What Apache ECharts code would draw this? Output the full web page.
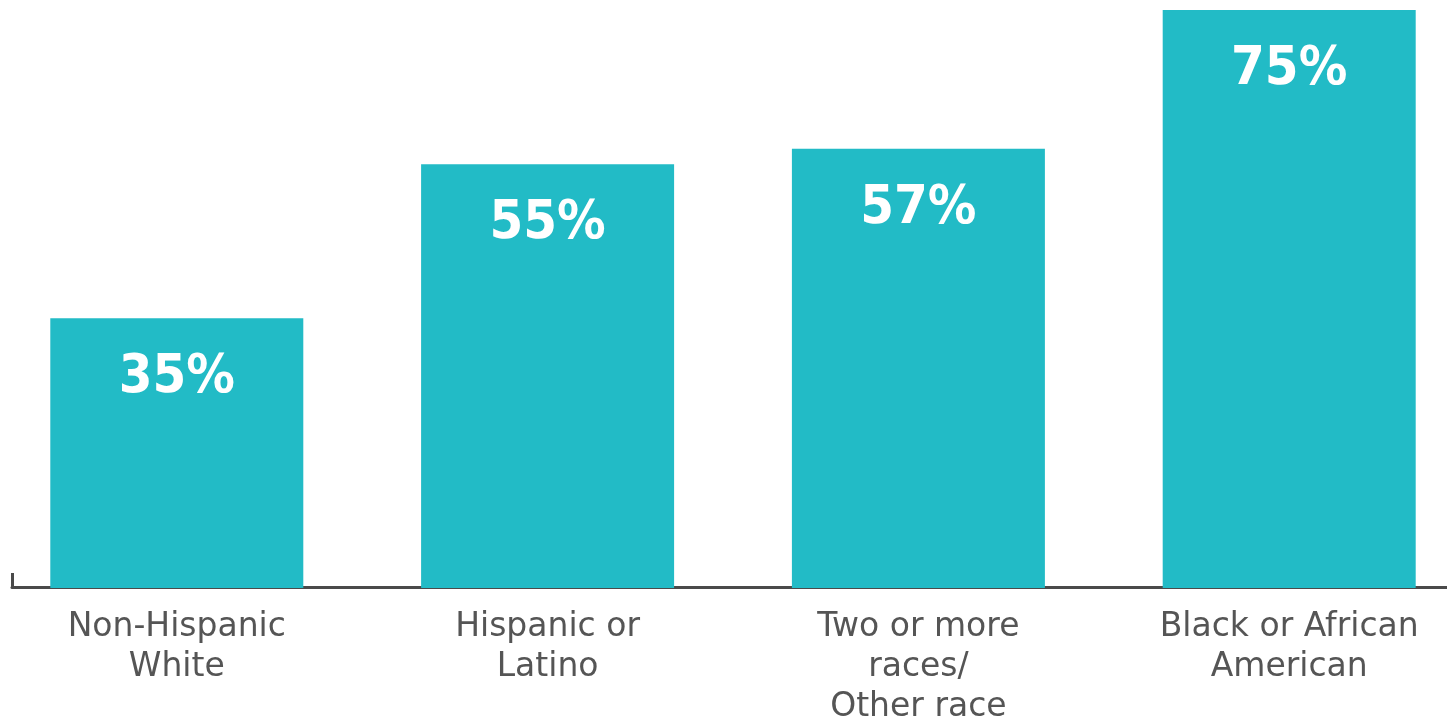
<!DOCTYPE html>
<html>
<head>
<meta charset="utf-8">
<script src="https://cdn.jsdelivr.net/npm/echarts@6/dist/echarts.min.js"></script>
<style>
html,body{margin:0;padding:0;background:#fff;}
#chart{width:1447px;height:726px;}
</style>
</head>
<body>
<div id="chart"></div>
<script>
const categories = ['Non-Hispanic\nWhite', 'Hispanic or\nLatino', 'Two or more\nraces/\nOther race', 'Black or African\nAmerican'];
const values = [35, 55, 57, 75];

const chart = echarts.init(document.getElementById('chart'));
chart.setOption({
  animation: false,
  backgroundColor: '#ffffff',
  grid: [
    { left: -8.6, right: -27.6, top: 10, bottom: 138, containLabel: false, outerBoundsMode: 'none' },
    { left: 12, right: -4, top: 10, bottom: 139, containLabel: false, outerBoundsMode: 'none' }
  ],
  xAxis: [
    {
      type: 'category', gridIndex: 0, data: categories,
      axisLine: { show: false }, axisTick: { show: false },
      axisLabel: {
        interval: 0, margin: 19,
        fontFamily: 'DejaVu Sans', fontSize: 33, lineHeight: 40,
        color: '#555555'
      }
    },
    {
      type: 'value', gridIndex: 1, min: 0, max: 1, interval: 1,
      axisLine: { show: true, lineStyle: { color: '#4a4a4a', width: 3 } },
      axisTick: { show: true, inside: true, length: 14, lineStyle: { color: '#4a4a4a', width: 3 } },
      axisLabel: { show: false }, splitLine: { show: false }
    }
  ],
  yAxis: [
    { type: 'value', gridIndex: 0, min: 0, max: 75, show: false, splitLine: { show: false } },
    { type: 'value', gridIndex: 1, min: 0, max: 1, show: false, splitLine: { show: false } }
  ],
  series: [{
    type: 'bar',
    xAxisIndex: 0, yAxisIndex: 0,
    data: values,
    barWidth: 253,
    itemStyle: { color: '#22BBC6' },
    label: {
      show: true, position: 'insideTop', distance: 30,
      formatter: '{c}%',
      color: '#ffffff',
      fontFamily: "'DejaVu Sans Condensed', sans-serif",
      fontWeight: 'bold', fontSize: 54, lineHeight: 60
    }
  }]
});
</script>
</body>
</html>
